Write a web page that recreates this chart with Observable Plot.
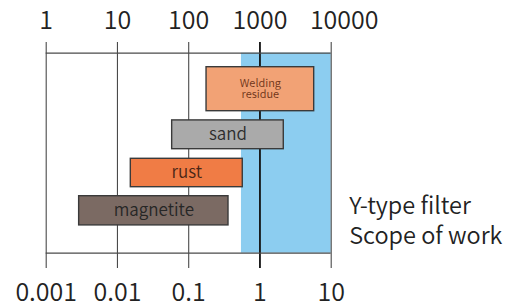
<!DOCTYPE html>
<html>
<head>
<meta charset="utf-8">
<script src="https://cdn.jsdelivr.net/npm/d3@7"></script>
<script src="https://cdn.jsdelivr.net/npm/@observablehq/plot@0.6"></script>
<style>
  html, body { margin: 0; padding: 0; background: #fff; }
  #chart svg { display: block; }
</style>
</head>
<body>
<div id="chart"></div>
<script>
// Tick values and labels (top: mesh / µm-like scale, bottom: mm)
const tickValues = [0.001, 0.01, 0.1, 1, 10];
const topLabels = ["1", "10", "100", "1000", "10000"];
const bottomLabels = ["0.001", "0.01", "0.1", "1", "10"];

// Particle categories and size ranges
const materials = ["Welding\nresidue", "sand", "rust", "magnetite"];
const sizeMin = [0.178, 0.0586, 0.0154, 0.0029];
const sizeMax = [5.77, 2.16, 0.574, 0.362];
const rowTop = [9.3, 6.64, 4.72, 2.85];
const rowBottom = [7.1, 5.2, 3.3, 1.39];

// Filter working scope
const scopeMin = 0.55;
const scopeMax = 10;
const scopeLabel = "Y-type filter\nScope of work";

const fills = ["#f2a275", "#aaaaaa", "#f07c45", "#7b6a63"];
const textColors = ["#6e3418", "#2e2e2e", "#4a2616", "#262626"];
const textSizes = [11, 17, 17, 17];

const bars = materials.map((m, i) => ({
  name: m, lo: sizeMin[i], hi: sizeMax[i], top: rowTop[i], bottom: rowBottom[i],
  fill: fills[i], color: textColors[i], size: textSizes[i]
}));

const font = "'Noto Sans CJK SC', 'Noto Sans', sans-serif";
const ticksMain = tickValues.slice(0, 4);
const tickLast = tickValues.slice(4);

const chart = Plot.plot({
  width: 514,
  height: 304,
  marginLeft: 45.7,
  marginRight: 183.3,
  marginTop: 42,
  marginBottom: 36,
  x: { type: "log", domain: [0.001, 10], axis: null },
  y: { domain: [-0.765, 10.535], axis: null },
  style: { fontFamily: font, background: "#fff" },
  marks: [
    Plot.rect([{}], { x1: scopeMin, x2: scopeMax, y1: 0, y2: 10, fill: "#8ccdf0" }),
    Plot.ruleX(tickValues, { x: d => d, stroke: d => d === 1 ? "#111" : "#4a4a4a", strokeWidth: d => d === 1 ? 1.8 : 1.1 }),
    Plot.ruleY([0, 10], { x1: 0.001, x2: 10, stroke: "#4a4a4a", strokeWidth: 1.2 }),
    Plot.rect(bars, { x1: "lo", x2: "hi", y1: "bottom", y2: "top", fill: d => d.fill, stroke: "#3a3a3a", strokeWidth: 1.4 }),
    ...bars.map(b => Plot.text([b], {
      x: d => Math.sqrt(d.lo * d.hi), y: d => (d.top + d.bottom) / 2,
      text: "name", fill: b.color, fontSize: b.size, lineHeight: 1.0, fontWeight: 350
    })),
    Plot.text(ticksMain, { x: d => d, text: (d, i) => topLabels[i], frameAnchor: "top", dy: -14, lineAnchor: "bottom", fontSize: 25, fontWeight: 350, fill: "#222" }),
    Plot.text(tickLast, { x: d => d, text: () => topLabels[4], frameAnchor: "top", dx: 13, dy: -14, lineAnchor: "bottom", fontSize: 25, fontWeight: 350, fill: "#222" }),
    Plot.text(tickValues, { x: d => d, text: (d, i) => bottomLabels[i], frameAnchor: "bottom", dy: 32, lineAnchor: "bottom", fontSize: 25, fontWeight: 350, fill: "#222" }),
    Plot.text([scopeLabel], { text: d => d, frameAnchor: "bottom-right", dx: 18, dy: -25, textAnchor: "start", lineAnchor: "bottom", lineHeight: 1.27, fontSize: 23.5, fontWeight: 350, fill: "#222" })
  ]
});
document.getElementById("chart").appendChild(chart);
</script>
</body>
</html>
